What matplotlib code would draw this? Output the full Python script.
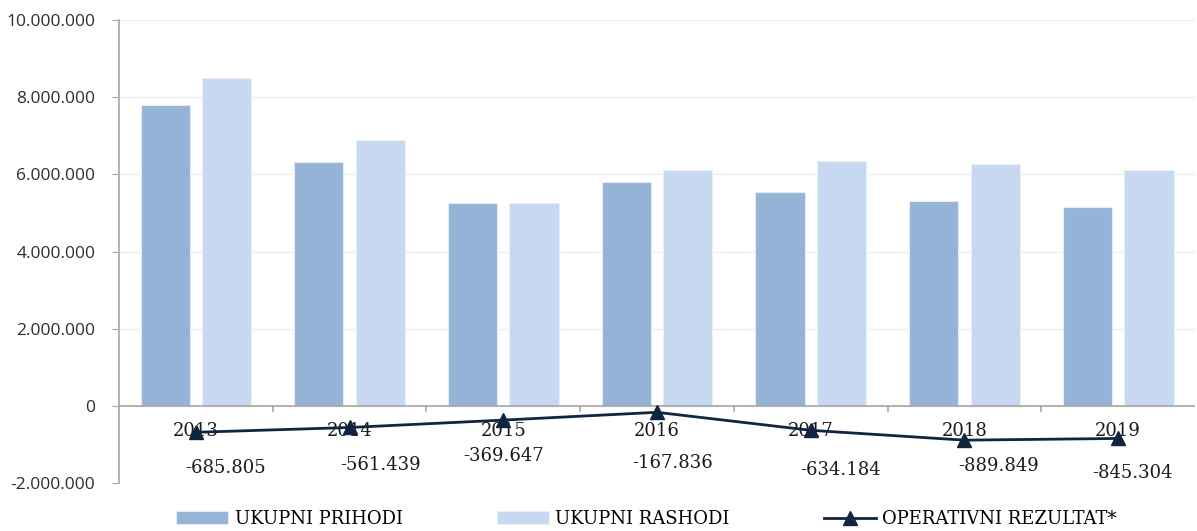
import matplotlib
matplotlib.use('Agg')
import matplotlib.pyplot as plt
from matplotlib.ticker import FuncFormatter
import numpy as np

years = ['2013', '2014', '2015', '2016', '2017', '2018', '2019']
prihodi = [7810000, 6310000, 5270000, 5800000, 5530000, 5300000, 5160000]
rashodi = [8490000, 6880000, 5270000, 6100000, 6340000, 6280000, 6100000]
rezultat = [-685805, -561439, -369647, -167836, -634184, -889849, -845304]

# label offsets in pixels (dx, dy)
lbl_dx = [30, 31, 0, 16, 30, 34, 14]
lbl_dy = [-36, -38, -36, -51, -40, -26, -35]

c_pri = '#95B3D7'
c_ras = '#C6D9F1'
c_line = '#10253F'
serif = 'DejaVu Serif'

fig = plt.figure(figsize=(11.97, 5.31), dpi=100)
ax = fig.add_axes([0.0994, 0.0904, 0.899, 0.8719])

x = np.arange(len(years))
w = 0.32
b1 = ax.bar(x - 0.2, prihodi, w, color=c_pri, edgecolor='#E3EBF5', linewidth=0.8,
            label='UKUPNI PRIHODI', zorder=2)
b2 = ax.bar(x + 0.2, rashodi, w, color=c_ras, edgecolor='#E8EFF8', linewidth=0.8,
            label='UKUPNI RASHODI', zorder=2)
ln, = ax.plot(x, rezultat, color=c_line, lw=2, marker='^', ms=10,
              label='OPERATIVNI REZULTAT*', zorder=4)

for xi, v, dx, dy in zip(x, rezultat, lbl_dx, lbl_dy):
    s = '{:,}'.format(v).replace(',', '.')
    ax.annotate(s, (xi, v), xytext=(dx * 0.72, dy * 0.72), textcoords='offset points',
                ha='center', va='center', fontsize=13, family=serif, color='#1a1a1a')

ax.set_xlim(-0.5, 6.5)
ax.set_ylim(-2000000, 10000000)
ax.set_yticks(np.arange(-2000000, 10000001, 2000000))
ax.yaxis.set_major_formatter(FuncFormatter(lambda v, p: '{:,.0f}'.format(v).replace(',', '.')))
for t in ax.get_yticklabels():
    t.set_fontfamily('Open Sans')
    t.set_fontsize(12.5)
    t.set_color('#2e2e2e')
ax.tick_params(axis='y', length=5, color='#A6A6A6', pad=12)
ax.grid(axis='y', color='#EFEFEF', lw=1, zorder=0)
ax.set_axisbelow(True)

for sp in ['top', 'right', 'bottom']:
    ax.spines[sp].set_visible(False)
ax.spines['left'].set_color('#A6A6A6')
ax.spines['left'].set_linewidth(1.2)
ax.axhline(0, color='#A6A6A6', lw=1.2, zorder=3)

# x ticks at category boundaries, labels at centers
ax.set_xticks([])
for xb in np.arange(0.5, 6.5, 1.0):
    ax.plot([xb, xb], [0, -130000], color='#A6A6A6', lw=1.2, zorder=3, clip_on=False)
for xi, yr in zip(x, years):
    ax.text(xi, -640000, yr, ha='center', va='center', fontsize=13, family=serif,
            color='#1a1a1a', zorder=3)

fig.legend([b1, b2, ln], ['UKUPNI PRIHODI', 'UKUPNI RASHODI', 'OPERATIVNI REZULTAT*'],
           loc='lower center', bbox_to_anchor=(0.54, -0.025), ncol=3, frameon=False,
           prop={'family': serif, 'size': 13}, handlelength=2.9, handleheight=0.7,
           columnspacing=5.2, handletextpad=0.35)

fig.savefig('out.png', dpi=100)
